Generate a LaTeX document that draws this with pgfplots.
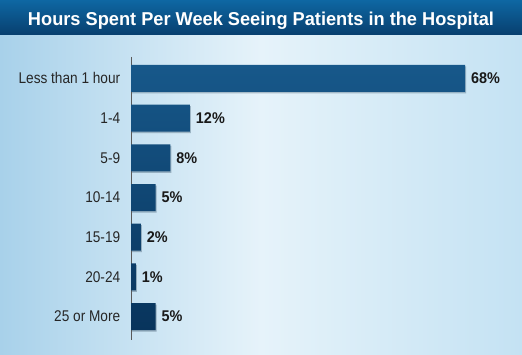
\documentclass[border=0pt]{standalone}
\usepackage{pgfplots}
\pgfplotsset{compat=1.18}
\usepackage{fontspec}
\setmainfont{Liberation Sans}
\newfontfamily\condfont[FakeStretch=0.88]{Liberation Sans}
\newfontfamily\condbold[FakeStretch=0.93]{Liberation Sans Bold}
\definecolor{bgleft}{HTML}{A8D1EA}
\definecolor{bgmid}{HTML}{E6F3FA}
\definecolor{bgright}{HTML}{C4E2F3}
\definecolor{titletop}{HTML}{0E67A3}
\definecolor{titlebot}{HTML}{083F6E}
\definecolor{bartop}{HTML}{17588A}
\definecolor{barbot}{HTML}{08345C}
\begin{document}
\begin{tikzpicture}
\shade[left color=bgleft, right color=bgright, middle color=bgmid] (0,0) rectangle (522pt,320pt);
\shade[top color=titletop, bottom color=titlebot] (0,320pt) rectangle (522pt,355pt);
\node[text=white, anchor=base, inner sep=0pt] at (261pt,329.3pt) {\resizebox{466pt}{13.5pt}{\fontsize{18}{20}\selectfont\bfseries Hours Spent Per Week Seeing Patients in the Hospital}};
\begin{axis}[
  at={(131pt,15pt)}, anchor=south west,
  scale only axis, width=391pt, height=283pt,
  xbar, bar width=27pt,
  xmin=0, xmax=79.6,
  ymin=-0.54, ymax=6.59, y dir=reverse,
  axis x line=none,
  axis y line*=left,
  y axis line style={draw=black!65, line width=0.6pt, -},
  ytick={0,1,2,3,4,5,6},
  yticklabels={Less than 1 hour,1-4,5-9,10-14,15-19,20-24,25 or More},
  ytick style={draw=none},
  yticklabel style={font=\condfont\fontsize{15.5}{17}\selectfont, text=black!85, xshift=-3pt},
  point meta=explicit symbolic,
  nodes near coords,
  nodes near coords style={font=\condbold\fontsize{15.5}{17}\selectfont, text=black!90, anchor=west, xshift=2.5pt},
  clip=false,
]
\addplot[draw=none, top color=bartop, bottom color=barbot,
  preaction={fill=black, opacity=0.15, transform canvas={shift={(1pt,-1.5pt)}}}]
coordinates {(68,0)[68\%] (12,1)[12\%] (8,2)[8\%] (5,3)[5\%] (2,4)[2\%] (1,5)[1\%] (5,6)[5\%]};
\end{axis}
\pgfresetboundingbox
\useasboundingbox (0,0) rectangle (522pt,355pt);
\end{tikzpicture}
\end{document}
